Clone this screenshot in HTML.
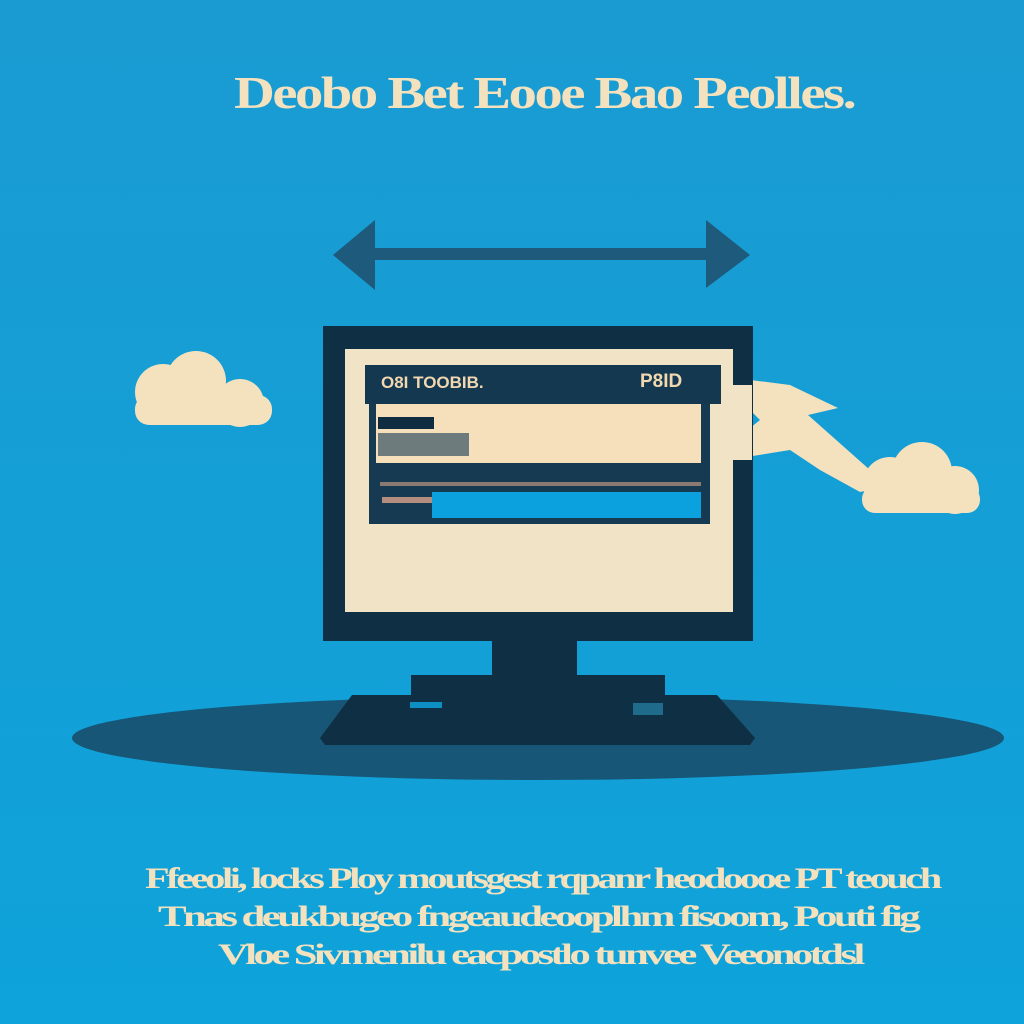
<!DOCTYPE html>
<html><head><style>
body{margin:0;width:1024px;height:1024px;background:#12a0d8;overflow:hidden;position:relative;font-family:"Liberation Sans",sans-serif}
.t{position:absolute;color:#f4e1bd;white-space:nowrap;font-weight:bold;transform-origin:0 0}
</style></head><body>
<svg width="1024" height="1024" style="position:absolute;left:0;top:0">
<defs><linearGradient id="bg" x1="0" y1="0" x2="0" y2="1"><stop offset="0" stop-color="#1a9bd2"/><stop offset="1" stop-color="#0ea3da"/></linearGradient></defs>
<rect width="1024" height="1024" fill="url(#bg)"/>
<rect x="365" y="248" width="350" height="12" fill="#1d5a7c"/>
<polygon points="333,255 375,220 375,290" fill="#1d5a7c"/>
<polygon points="750,255 706,220 706,288" fill="#1d5a7c"/>
<ellipse cx="538" cy="738" rx="466" ry="42" fill="#175676"/>
<g fill="#f4e1bd">
<circle cx="163" cy="392" r="28"/><circle cx="196" cy="381" r="30"/><circle cx="240" cy="403" r="24"/>
<rect x="135" y="395" width="137" height="30" rx="14"/>
<circle cx="890" cy="484" r="27"/><circle cx="922" cy="472" r="30"/><circle cx="955" cy="490" r="24"/>
<rect x="862" y="486" width="118" height="27" rx="13"/>
<polygon points="735,378 790,385 838,408 808,415 870,470 880,488 860,492 820,470 790,450 740,458 735,440 760,420 740,400"/>
</g>
<rect x="323" y="326" width="430" height="315" fill="#0f3044"/>
<rect x="345" y="349" width="388" height="263" fill="#f1e3c5"/>
<rect x="365" y="365" width="356" height="39" fill="#14384f"/>
<rect x="369" y="404" width="341" height="120" fill="#163a51"/>
<rect x="376" y="404" width="325" height="59" fill="#f6dfbb"/>
<rect x="378" y="417" width="56" height="12" fill="#0f2c40"/>
<rect x="378" y="433" width="91" height="23" fill="#6e7b7d"/>
<rect x="432" y="492" width="269" height="26" fill="#0aa1de"/>
<rect x="380" y="482" width="321" height="4" fill="#8a7a72"/>
<rect x="382" y="497" width="50" height="6" fill="#b58e80"/>
<rect x="730" y="385" width="22" height="75" fill="#f1e3c5"/>
<rect x="492" y="641" width="85" height="50" fill="#0f3044"/>
<rect x="411" y="675" width="254" height="22" fill="#0f3044"/>
<polygon points="352,695 717,695 755,738 750,745 325,745 320,738" fill="#0f3044"/>
<rect x="410" y="702" width="32" height="6" fill="#0d8fc3"/>
<rect x="633" y="703" width="30" height="12" fill="#1e6b8c"/>
</svg>
<div class="t" style="left:234px;top:66px;font-family:'Liberation Serif',serif;font-size:46px;letter-spacing:-2px;transform:scaleX(1.23)">Deobo Bet Eooe Bao Peolles.</div>
<div class="t" style="left:381px;top:373px;font-size:17px;color:#f1d8b0">O8I TOOBIB.</div>
<div class="t" style="left:640px;top:371px;font-size:19px;color:#f1d8b0">P8ID</div>
<div class="t" style="left:145px;top:862px;font-size:30px;letter-spacing:-2.5px;font-family:'Liberation Serif',serif;transform:scaleX(1.34)">Ffeeoli, locks Ploy moutsgest rqpanr heodoooe PT teouch</div>
<div class="t" style="left:158px;top:900px;font-size:30px;letter-spacing:-2.5px;font-family:'Liberation Serif',serif;transform:scaleX(1.43)">Tnas deukbugeo fngeaudeooplhm fisoom, Pouti fig</div>
<div class="t" style="left:218px;top:938px;font-size:30px;letter-spacing:-2.5px;font-family:'Liberation Serif',serif;transform:scaleX(1.42)">Vloe Sivmenilu eacpostlo tunvee Veeonotdsl</div>
</body></html>
